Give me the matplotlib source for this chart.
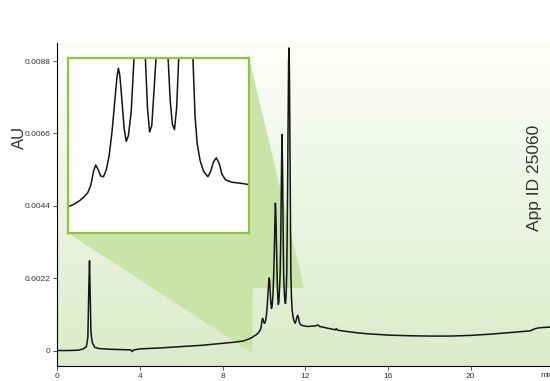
import numpy as np
import matplotlib
matplotlib.use("Agg")
import matplotlib.pyplot as plt
from matplotlib.patches import Polygon

plt.rcParams['font.family'] = ['Liberation Sans', 'DejaVu Sans']

# chromatogram (min, AU)
time_min = [0.0, 0.5, 1.0, 1.25, 1.40, 1.47, 1.52, 1.55, 1.58, 1.62, 1.68, 1.8, 2.0, 2.5, 3.0,
            3.55, 3.62, 3.7, 4.0, 5.0, 6.0, 7.0, 8.0, 8.5, 9.0, 9.3, 9.43, 9.54, 9.60, 9.66,
            9.71, 9.76, 9.82, 9.86, 9.90, 9.93, 9.96, 10.00, 10.04, 10.08, 10.12, 10.16, 10.20,
            10.23, 10.25, 10.27, 10.30, 10.33, 10.36, 10.39, 10.43, 10.47, 10.50, 10.53, 10.55,
            10.57, 10.60, 10.63, 10.66, 10.69, 10.72, 10.75, 10.78, 10.81, 10.84, 10.87, 10.90,
            10.93, 10.95, 10.98, 11.01, 11.04, 11.07, 11.10, 11.13, 11.16, 11.19, 11.21, 11.23,
            11.26, 11.29, 11.30, 11.33, 11.36, 11.40, 11.45, 11.51, 11.55, 11.59, 11.63, 11.67,
            11.71, 11.76, 11.85, 11.95, 12.1, 12.5, 12.6, 12.7, 13.0, 13.45, 13.5, 13.55, 14.0,
            14.5, 15.0, 16.0, 17.0, 18.0, 19.0, 20.0, 21.0, 22.0, 22.9, 23.1, 23.3, 24.0, 24.5]
absorbance_au = [0.0, 0.0, 0.00001, 0.00005, 0.00012, 0.00040, 0.0020, 0.00273, 0.0018, 0.00055,
                 0.00025, 0.00010, 0.00006, 0.00004, 0.00003, 0.00002, -0.00003, 0.00002, 0.00005,
                 0.00008, 0.00012, 0.00016, 0.00022, 0.00025, 0.00029, 0.00036, 0.00040, 0.00045,
                 0.00047, 0.00050, 0.00053, 0.00057, 0.00063, 0.00072, 0.00090, 0.00098, 0.00093,
                 0.00084, 0.00083, 0.00092, 0.00110, 0.00140, 0.00180, 0.00210, 0.00221, 0.00212,
                 0.00180, 0.00145, 0.00128, 0.00135, 0.00165, 0.00234, 0.0031, 0.0040, 0.00448,
                 0.0042, 0.0033, 0.00234, 0.0017, 0.00140, 0.00148, 0.0019, 0.00234, 0.0034, 0.0052,
                 0.00657, 0.0054, 0.0033, 0.00234, 0.0018, 0.00150, 0.00143, 0.0017, 0.00234, 0.0040,
                 0.0065, 0.0088, 0.0092, 0.0085, 0.0058, 0.0031, 0.00234, 0.0016, 0.00125, 0.00104,
                 0.00090, 0.00083, 0.00090, 0.00102, 0.00107, 0.00100, 0.00086, 0.00079, 0.00076,
                 0.00075, 0.00073, 0.00075, 0.00078, 0.00073, 0.00069, 0.00063, 0.00067, 0.00062,
                 0.00058, 0.00054, 0.00051, 0.00047, 0.00045, 0.00044, 0.00044, 0.00046, 0.00050,
                 0.00055, 0.00060, 0.00066, 0.00069, 0.00072, 0.00073]

x_ticks = [0, 4, 8, 12, 16, 20]
y_ticks = [0, 0.0022, 0.0044, 0.0066, 0.0088]
y_tick_labels = ['0', '0.0022', '0.0044', '0.0066', '0.0088']

grey = '#333333'
green_edge = '#8cc63f'
green_fill = '#c9e3a8'

fig = plt.figure(figsize=(5.5, 3.81), dpi=100)
ax = fig.add_axes([57.5 / 550, 15 / 381, 506 / 550, 323 / 381])

# background gradient: near white on top, light green at the bottom
top_c = np.array([253, 254, 250]) / 255
bot_c = np.array([219, 235, 202]) / 255
f = np.linspace(0, 1, 256)[:, None]
grad = (top_c * (1 - f) + bot_c * f)[:, None, :]
ax.imshow(grad, extent=[0, 1, 0, 1], transform=ax.transAxes, aspect='auto', zorder=0)

ax.plot(time_min, absorbance_au, color='#151515', lw=1.1, zorder=4)
ax.set_xlim(0, 24.5)
ax.set_ylim(-0.00047, 0.00935)

for s in ['top', 'right']:
    ax.spines[s].set_visible(False)
for s in ['left', 'bottom']:
    ax.spines[s].set_linewidth(0.8)
    ax.spines[s].set_zorder(6)
ax.set_xticks(x_ticks)
ax.set_yticks(y_ticks)
ax.set_yticklabels(y_tick_labels)
ax.tick_params(labelsize=6, colors=grey, length=3, width=0.6, pad=2)
ax.text(23.37, -0.00066, 'min', fontsize=6, color=grey, ha='left', va='top')

fig.text(19 / 550, 1 - 137 / 381, 'AU', rotation=90, fontsize=12, color=grey,
         ha='center', va='center')
fig.text(535 / 550, 1 - 178 / 381, 'App ID 25060', rotation=90, fontsize=12.5,
         color=grey, ha='center', va='center')

# inset: zoom on the peak cluster
axins = fig.add_axes([68 / 550, 1 - 233 / 381, 181 / 550, 175 / 381])
axins.plot(time_min, absorbance_au, color='#151515', lw=1.1)
axins.set_xlim(9.54, 12.09)
axins.set_ylim(0.000115, 0.00234)
axins.set_xticks([])
axins.set_yticks([])
axins.set_facecolor('white')
for s in axins.spines.values():
    s.set_color(green_edge)
    s.set_linewidth(1.6)
axins.set_zorder(5)

# projection shape from the inset to the zoomed region
zx0, zx1 = 9.45, 11.94
zy0, zy1 = -0.00008, 0.0019
inv = ax.transData.inverted()
p_bl = inv.transform(axins.transAxes.transform((0, 0)))
p_tr = inv.transform(axins.transAxes.transform((1, 1)))
shape = Polygon([p_bl, p_tr, (zx1, zy1), (zx0, zy1), (zx0, zy0)], closed=True,
                facecolor=green_fill, edgecolor='none', zorder=2)
ax.add_patch(shape)

fig.savefig('out.png', dpi=100)
